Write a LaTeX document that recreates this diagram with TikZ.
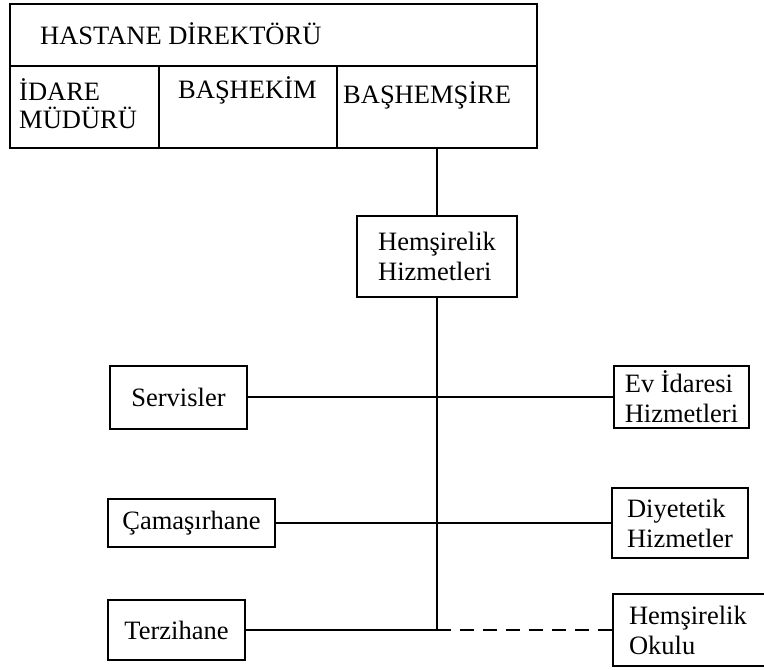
\documentclass[tikz,border=0pt]{standalone}
\usepackage{fontspec}
\setmainfont{Liberation Serif}
\usetikzlibrary{positioning}

\begin{document}
\begin{tikzpicture}[
    x=1pt, y=-1pt,
    every node/.style={font=\fontsize{26.5}{30}\selectfont},
    cell/.style={draw, line width=2pt, inner sep=0pt},
    unit/.style={cell, align=left},
    txt/.style={anchor=base west, inner sep=0pt},
    conn/.style={line width=2pt},
    dashconn/.style={conn, dash pattern=on 14pt off 9pt}
]
\useasboundingbox (0,0) rectangle (764,670);
\clip (0,0) rectangle (764,670);

% Top management table
\node[cell, minimum width=527pt, minimum height=62pt] (dir) at (273.5,35) {};
\node[cell, minimum width=149pt, minimum height=82pt] (idare) at (84.5,107) {};
\node[cell, minimum width=178pt, minimum height=82pt] (bashekim) at (248,107) {};
\node[cell, minimum width=200pt, minimum height=82pt] (bashem) at (437,107) {};

\node[txt] (tdir) at (40,44) {HASTANE DİREKTÖRÜ};
\node[txt, align=left] (tidare) at (19,128) {İDARE\\[-2pt]MÜDÜRÜ};
\node[txt] (tbashekim) at (178,98) {BAŞHEKİM};
\node[txt] (tbashem) at (343,103) {BAŞHEMŞİRE};

% Nursing services
\node[unit, minimum width=160pt, minimum height=81pt] (hem) at (437,256.5) {Hemşirelik\\Hizmetleri};

% Left units
\node[cell, minimum width=137pt, minimum height=63pt] (serv) at (178.5,397) {Servisler};
\node[cell, minimum width=167pt, minimum height=48pt] (cam) at (191.5,523) {Çamaşırhane};
\node[cell, minimum width=137pt, minimum height=60pt] (terz) at (176.5,630) {Terzihane};

% Right units
\node[unit, minimum width=135pt, minimum height=62pt] (ev) at (681.5,397) {Ev İdaresi\\Hizmetleri};
\node[unit, minimum width=136pt, minimum height=70pt] (diy) at (680,523) {Diyetetik\\Hizmetler};
\node[unit, anchor=west, inner xsep=16pt, text width=160pt, minimum height=72pt] (okul) at (612,630) {Hemşirelik\\Okulu};

% Connections
\coordinate (jn) at (hem.south |- terz.east);
\draw[conn] (bashem.south) -- (hem.north);
\draw[conn] (hem.south) -- (jn) -- (terz.east);
\draw[conn] (serv.east) -- (ev.west);
\draw[conn] (cam.east) -- (diy.west);
\draw[dashconn] (jn) -- (okul.west);
\end{tikzpicture}
\end{document}
